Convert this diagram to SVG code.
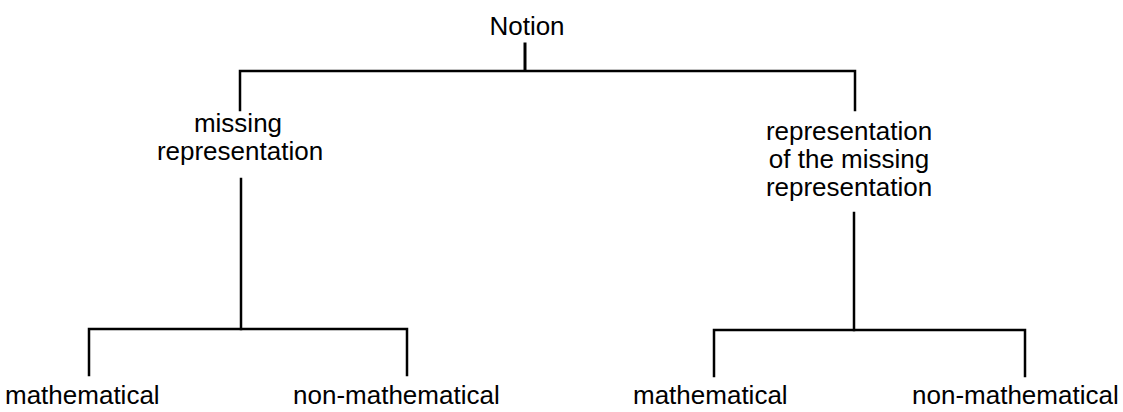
<svg xmlns="http://www.w3.org/2000/svg" width="1123" height="412" viewBox="0 0 1123 412">
<style>
text{font-family:"Liberation Sans",Arial,sans-serif;font-size:26px;fill:#000}
.c{text-anchor:middle}
.ln{stroke:#000;stroke-width:2.5;fill:none;stroke-linecap:square}
</style>
<rect width="1123" height="412" fill="#fff"/>
<g id="connectors">
<path class="ln" d="M525 44V70" style="stroke-width:3"/>
<path class="ln" d="M240 110V71H855V110"/>
<path class="ln" d="M241 179V329"/>
<path class="ln" d="M89 375V329H407V375"/>
<path class="ln" d="M854 213V330"/>
<path class="ln" d="M714 376V330H1025V376"/>
</g>
<g id="notion"><text class="c" x="527" y="35">Notion</text></g>
<g id="missing"><text class="c" x="238" y="132">missing</text><text class="c" x="240" y="160">representation</text></g>
<g id="repmissing"><text class="c" x="849" y="140">representation</text><text class="c" x="849" y="168">of the missing</text><text class="c" x="849" y="196">representation</text></g>
<g id="math1"><text x="5" y="404">mathematical</text></g>
<g id="nonmath1"><text x="293" y="404">non-mathematical</text></g>
<g id="math2"><text x="633" y="404">mathematical</text></g>
<g id="nonmath2"><text x="912" y="404">non-mathematical</text></g>
</svg>
